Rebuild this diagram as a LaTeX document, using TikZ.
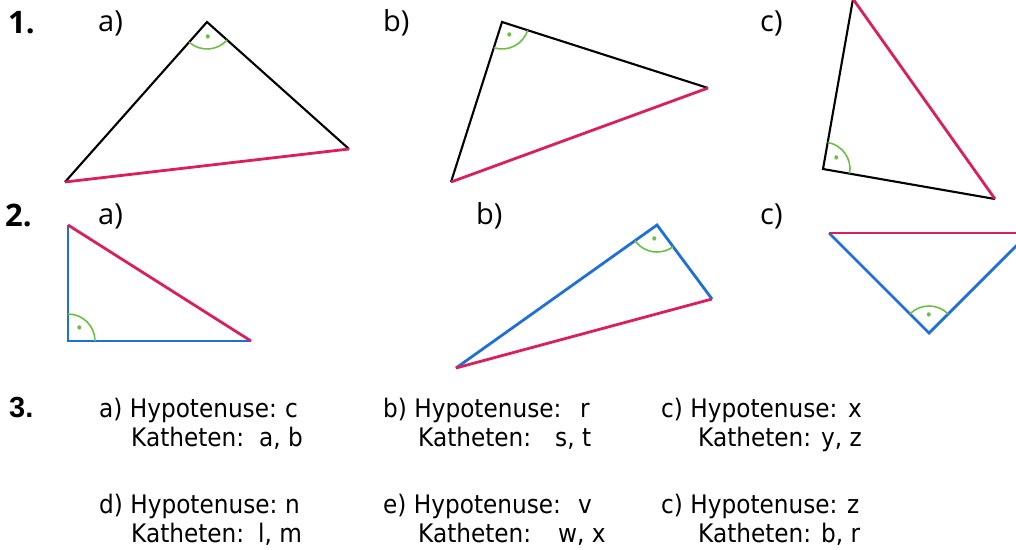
\documentclass[tikz,border=0pt]{standalone}
\usepackage{fontspec}
\setmainfont{DejaVu Sans}[FakeStretch=0.91]
\newfontfamily\pythlabfont{Open Sans}
\newfontfamily\pythnumfont{Liberation Sans}
\usepackage{xcolor}
\definecolor{pythred}{HTML}{DB1F5C}
\definecolor{pythblue}{HTML}{1F6FDB}
\definecolor{pythgreen}{HTML}{6DBE45}
\usepackage{tikz}
\usetikzlibrary{angles}
\tikzset{
  pythleg/.style={draw=black,line width=2.1pt,line join=miter},
  pythkat/.style={draw=pythblue,line width=2.8pt,line join=miter},
  pythhyp/.style={draw=pythred,line width=2.8pt},
  pythangle/.style={draw=pythgreen,line width=1.6pt,angle radius=27pt,angle eccentricity=0.6,
    pic text={\fontsize{15}{15}\selectfont\textbullet},pic text options={text=pythgreen,inner sep=0pt}},
  pythnum/.style={anchor=base west,inner sep=0pt,font=\pythlabfont\bfseries\fontsize{31}{31}\selectfont},
  pythlab/.style={anchor=base west,inner sep=0pt,font=\pythlabfont\fontsize{29}{29}\selectfont},
  pythbig/.style={anchor=base west,inner sep=0pt,font=\pythnumfont\bfseries\fontsize{29}{30}\selectfont},
  pythtxt/.style={anchor=base west,inner sep=0pt,font=\fontsize{25.5}{30}\selectfont},
}

\begin{document}
\begin{tikzpicture}[x=1pt,y=-1pt]
\useasboundingbox (0,0) rectangle (1016,549);
\clip (0,0) rectangle (1016,549);
% task 1: hypotenuse red
\node[pythnum] (n1) at (8,33) {1.};
\node[pythlab] (l1a) at (98,31) {a)};
\node[pythlab] (l1b) at (383,31) {b)};
\node[pythlab] (l1c) at (760,31) {c)};
\coordinate (t1aL) at (65,182); \coordinate (t1aV) at (207,22); \coordinate (t1aR) at (349,149);
\draw[pythleg] (t1aL) -- (t1aV) -- (t1aR);
\draw[pythhyp] (t1aL) -- (t1aR);
\pic[pythangle] {angle=t1aL--t1aV--t1aR};
\coordinate (t1bL) at (451,182); \coordinate (t1bV) at (502,22); \coordinate (t1bR) at (708,88);
\draw[pythleg] (t1bL) -- (t1bV) -- (t1bR);
\draw[pythhyp] (t1bL) -- (t1bR);
\pic[pythangle] {angle=t1bL--t1bV--t1bR};
\coordinate (t1cT) at (853,-1); \coordinate (t1cV) at (823,169); \coordinate (t1cR) at (995,199);
\draw[pythleg] (t1cT) -- (t1cV) -- (t1cR);
\draw[pythhyp] (t1cT) -- (t1cR);
\pic[pythangle] {angle=t1cR--t1cV--t1cT};
% task 2: katheten blue
\node[pythnum] (n2) at (5,226) {2.};
\node[pythlab] (l2a) at (98,224) {a)};
\node[pythlab] (l2b) at (476,224) {b)};
\node[pythlab] (l2c) at (760,224) {c)};
\coordinate (t2aT) at (68,225); \coordinate (t2aV) at (68,341); \coordinate (t2aR) at (251,341);
\draw[pythkat] (t2aT) -- (t2aV) -- (t2aR);
\draw[pythhyp] (t2aT) -- (t2aR);
\pic[pythangle] {angle=t2aR--t2aV--t2aT};
\coordinate (t2bL) at (456,368); \coordinate (t2bV) at (657,225); \coordinate (t2bR) at (712,299);
\draw[pythkat] (t2bL) -- (t2bV) -- (t2bR);
\draw[pythhyp] (t2bL) -- (t2bR);
\pic[pythangle] {angle=t2bL--t2bV--t2bR};
\coordinate (t2cL) at (829,233); \coordinate (t2cV) at (929,333); \coordinate (t2cR) at (1029,233);
\draw[pythkat] (t2cL) -- (t2cV) -- (t2cR);
\draw[pythhyp] (t2cL) -- (t2cR);
\pic[pythangle] {angle=t2cR--t2cV--t2cL};
% task 3
\node[pythbig] (n3) at (9,417) {3.};
\node[pythtxt] (h3a) at (99,417) {a) Hypotenuse:};  \node[pythtxt] (h3av) at (285,417) {c};
\node[pythtxt] (k3a) at (131,446) {Katheten:};      \node[pythtxt] (k3av) at (259,446) {a, b};
\node[pythtxt] (h3b) at (383,417) {b) Hypotenuse:}; \node[pythtxt] (h3bv) at (580,417) {r};
\node[pythtxt] (k3b) at (418,446) {Katheten:};      \node[pythtxt] (k3bv) at (555,446) {s, t};
\node[pythtxt] (h3c) at (661,417) {c) Hypotenuse:}; \node[pythtxt] (h3cv) at (848,417) {x};
\node[pythtxt] (k3c) at (698,446) {Katheten:};      \node[pythtxt] (k3cv) at (821,446) {y, z};
\node[pythtxt] (h3d) at (99,513) {d) Hypotenuse:};  \node[pythtxt] (h3dv) at (285,513) {n};
\node[pythtxt] (k3d) at (131,542) {Katheten:};      \node[pythtxt] (k3dv) at (258,542) {l, m};
\node[pythtxt] (h3e) at (383,513) {e) Hypotenuse:}; \node[pythtxt] (h3ev) at (578,513) {v};
\node[pythtxt] (k3e) at (418,542) {Katheten:};      \node[pythtxt] (k3ev) at (558,542) {w, x};
\node[pythtxt] (h3f) at (661,513) {c) Hypotenuse:}; \node[pythtxt] (h3fv) at (847,513) {z};
\node[pythtxt] (k3f) at (698,542) {Katheten:};      \node[pythtxt] (k3fv) at (821,542) {b, r};
\end{tikzpicture}
\end{document}
